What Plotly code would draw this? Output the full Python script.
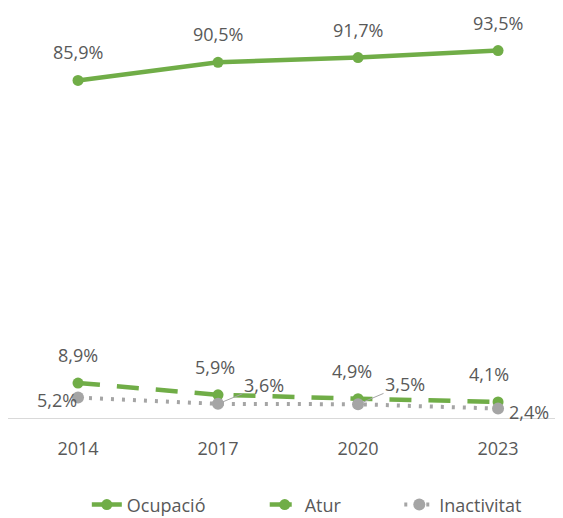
import plotly.graph_objects as go

years = ["2014", "2017", "2020", "2023"]
ocupacio = [85.9, 90.5, 91.7, 93.5]
atur = [8.9, 5.9, 4.9, 4.1]
inactivitat = [5.2, 3.6, 3.5, 2.4]
ocupacio_lbl = ["85,9%", "90,5%", "91,7%", "93,5%"]
atur_lbl = ["8,9%", "5,9%", "4,9%", "4,1%"]
inact_lbl = ["5,2%", "3,6%", "3,5%", "2,4%"]

GREEN = "#70AD47"
GRAY = "#A5A5A5"
TXT = "#595959"
FONT = "Open Sans"
FS = 18

fig = go.Figure()
fig.add_trace(go.Scatter(x=years, y=ocupacio, name="Ocupació", mode="lines+markers",
                         line=dict(color=GREEN, width=4.5), marker=dict(size=11, color=GREEN),
                         legend="legend"))
fig.add_trace(go.Scatter(x=years, y=atur, name="Atur", mode="lines+markers",
                         line=dict(color=GREEN, width=4.5, dash="22px,17px"),
                         marker=dict(size=11, color=GREEN), legend="legend2"))
fig.add_trace(go.Scatter(x=years, y=inactivitat, name="Inactivitat", mode="lines+markers",
                         line=dict(color=GRAY, width=4, dash="3px,8px"),
                         marker=dict(size=12, color=GRAY), legend="legend3"))

ann = []
for i in range(len(years)):
    ann.append(dict(x=i, y=ocupacio[i], text=ocupacio_lbl[i], showarrow=False, yshift=28))
atur_dx = [0, -3, -6, -9]
for i in range(len(years)):
    ann.append(dict(x=i, y=atur[i], text=atur_lbl[i], showarrow=False, yshift=28, xshift=atur_dx[i]))
ann.append(dict(x=0, y=inactivitat[0], text=inact_lbl[0], showarrow=False, xshift=-21, yshift=-2))
ann.append(dict(x=1, y=inactivitat[1], text=inact_lbl[1], showarrow=True, arrowhead=0,
                arrowwidth=1, arrowcolor=GRAY, ax=46, ay=-19, standoff=4))
ann.append(dict(x=2, y=inactivitat[2], text=inact_lbl[2], showarrow=True, arrowhead=0,
                arrowwidth=1, arrowcolor=GRAY, ax=47, ay=-20, standoff=4))
ann.append(dict(x=3, y=inactivitat[3], text=inact_lbl[3], showarrow=False, xshift=31, yshift=-3))
for a in ann:
    a["xref"] = "x"
    a["yref"] = "y"
    a["font"] = dict(family=FONT, size=FS, color=TXT)

leg_common = dict(orientation="h", y=-0.221, yanchor="middle", xanchor="left",
                  font=dict(family=FONT, size=FS, color=TXT), bgcolor="rgba(0,0,0,0)")
fig.update_layout(
    width=563, height=518,
    margin=dict(l=0, r=0, t=17, b=108),
    paper_bgcolor="white", plot_bgcolor="white",
    font=dict(family=FONT, size=FS, color=TXT),
    annotations=ann,
    showlegend=True,
    legend=dict(x=0.140, **leg_common),
    legend2=dict(x=0.456, **leg_common),
    legend3=dict(x=0.695, **leg_common),
)
fig.update_xaxes(type="category", range=[-0.5, 3.521], showgrid=False, showline=True,
                 linecolor="#D9D9D9", linewidth=1, ticks="", ticklabelstandoff=14,
                 tickfont=dict(family=FONT, size=FS, color=TXT))
fig.update_yaxes(range=[0, 100], visible=False, showgrid=False, zeroline=False)

fig.write_html("out.html")
